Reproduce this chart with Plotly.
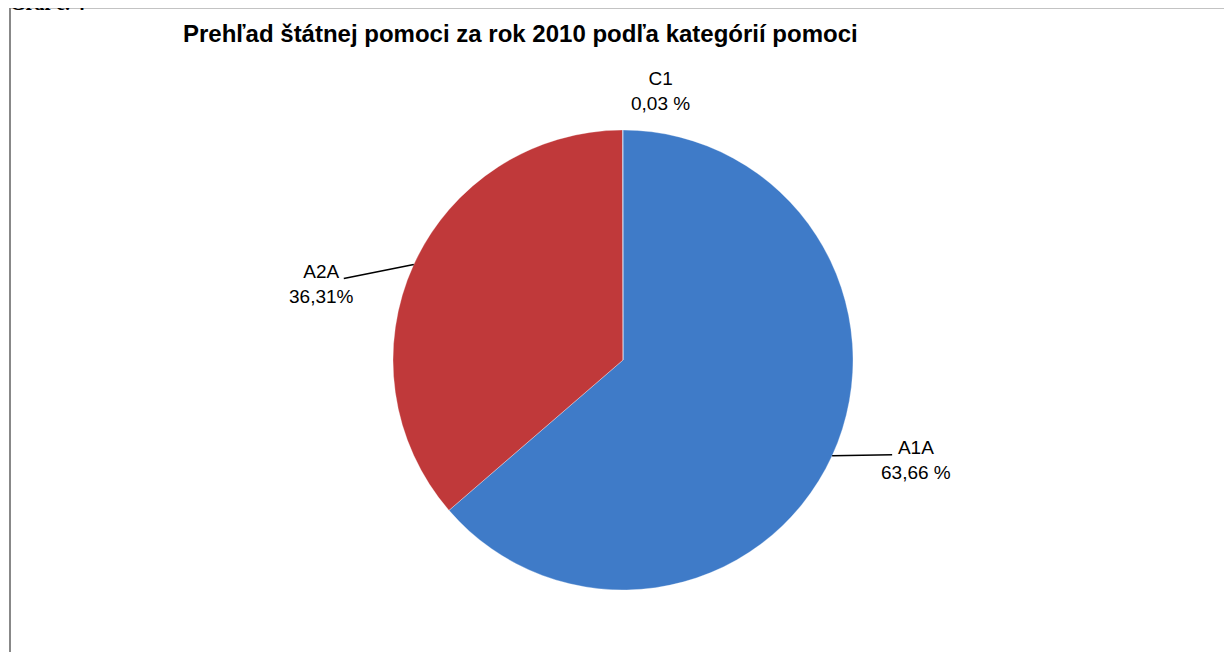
import numpy as np
import plotly.graph_objects as go

categories = ["A1A", "A2A", "C1"]
values = [63.66, 36.31, 0.03]
label_texts = ["63,66 %", "36,31%", "0,03 %"]
colors = ["#3f7bc8", "#c0393a", "#4a86d6"]

title_text = "Prehľad štátnej pomoci za rok 2010 podľa kategórií pomoci"

OFF = 8  # page body margin
W, H = 1232 - OFF, 652 - OFF
cx, cy, r = 623 - OFF, 360 - OFF, 230  # pie geometry in pixels (figure coords)

fig = go.Figure(go.Pie(
    labels=categories,
    values=values,
    sort=False,
    direction="clockwise",
    rotation=0,
    marker=dict(colors=colors, line=dict(color="rgba(255,255,255,0.3)", width=1)),
    textinfo="none",
    hoverinfo="label+percent",
    domain=dict(x=[(cx - r) / W, (cx + r) / W], y=[(H - cy - r) / H, (H - cy + r) / H]),
    showlegend=False,
))

font_fam = "Liberation Sans Narrow, Arial Narrow, Liberation Sans, Arial"

def px(x):
    return x / W

def py(y):
    return 1 - y / H

vals = np.array(values)
cum = np.cumsum(vals) / vals.sum() * 360
starts = np.concatenate([[0], cum[:-1]])
mids = (starts + cum) / 2

annotations = []
shapes = []
lab_font = dict(family=font_fam, size=19, color="#000")
for i, (cat, txt) in enumerate(zip(categories, label_texts)):
    th = np.deg2rad(mids[i])
    ex = cx + r * np.sin(th)
    ey = cy - r * np.cos(th)
    text = f"{cat}<br>{txt}"
    if cat == "C1":
        annotations.append(dict(x=px(ex + 38), y=py(ey - 14), xref="paper", yref="paper",
                                text=text, showarrow=False, xanchor="center", yanchor="bottom",
                                font=lab_font, align="center"))
    elif np.sin(th) < 0:
        lx, ly = ex - 70, ey + 14
        shapes.append(dict(type="line", xref="paper", yref="paper",
                           x0=px(ex), y0=py(ey), x1=px(lx), y1=py(ly),
                           line=dict(color="#000", width=1.5)))
        annotations.append(dict(x=px(lx + 12), y=py(ly - 19), xref="paper", yref="paper",
                                text=text, showarrow=False, xanchor="right", yanchor="top",
                                font=lab_font, align="center"))
    else:
        lx, ly = ex + 60, ey - 1
        shapes.append(dict(type="line", xref="paper", yref="paper",
                           x0=px(ex), y0=py(ey), x1=px(lx), y1=py(ly),
                           line=dict(color="#000", width=1.5)))
        annotations.append(dict(x=px(lx - 13), y=py(ly - 20), xref="paper", yref="paper",
                                text=text, showarrow=False, xanchor="left", yanchor="top",
                                font=lab_font, align="center"))

# title
annotations.append(dict(x=px(520 - OFF), y=py(33 - OFF), xref="paper", yref="paper", text=f"<b>{title_text}</b>",
                        showarrow=False, xanchor="center", yanchor="middle",
                        font=dict(family=font_fam, size=24, color="#000")))
# partially cut caption above the frame
annotations.append(dict(x=0, y=1.0, xref="paper", yref="paper", text="<b>Graf č. 4</b>",
                        showarrow=False, xanchor="left", yanchor="bottom", yshift=-8,
                        font=dict(family="Liberation Serif, Times New Roman", size=20, color="#000")))

# frame
fy = 7.5 - OFF
shapes.append(dict(type="line", xref="paper", yref="paper", x0=px(10 - OFF), y0=py(fy), x1=1, y1=py(fy),
                   line=dict(color="#888", width=2)))
shapes.append(dict(type="line", xref="paper", yref="paper", x0=px(10 - OFF), y0=py(fy), x1=px(10 - OFF), y1=0,
                   line=dict(color="#888", width=2)))

fig.update_layout(
    width=W, height=H,
    margin=dict(l=0, r=0, t=0, b=0),
    paper_bgcolor="white", plot_bgcolor="white",
    annotations=annotations, shapes=shapes,
)

fig.write_html("out.html")
